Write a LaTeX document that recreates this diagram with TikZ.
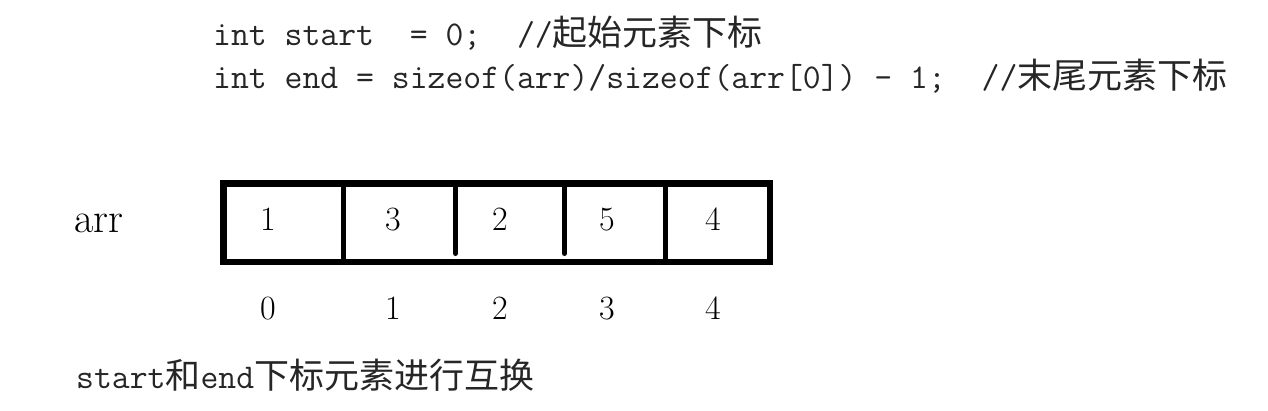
\documentclass[tikz,border=0pt]{standalone}
\usepackage{fontspec}
\setmonofont{Latin Modern Mono}
\newfontfamily\cjk{Noto Sans CJK SC}
\newcommand{\codesz}{\fontsize{34.7}{40}\selectfont}
\newcommand{\zh}[1]{{\cjk\fontsize{35}{40}\selectfont #1}}
\begin{document}
\begin{tikzpicture}[x=1pt,y=-1pt,
  codetext/.style={anchor=base west,inner sep=0pt,font=\ttfamily\codesz,text=black!85},
  numtext/.style={anchor=base,inner sep=0pt,font=\fontsize{34}{40}\selectfont},
  border/.style={line width=6.5pt},
  divider/.style={line width=5pt}]
\useasboundingbox[fill=white] (0,0) rectangle (1268,410);
% code lines
\node[codetext] (line1) at (213,45) {int\ start\ \ =\ 0;\ \ //\zh{起始元素下标}};
\node[codetext] (line2) at (213,88) {int\ end\ =\ sizeof(arr)/sizeof(arr[0])\ -\ 1;\ \ //\zh{末尾元素下标}};
% array
\node[draw,border,minimum width=546.5pt,minimum height=78.5pt,inner sep=0pt,anchor=north west] (arrbox) at (220,180) {};
\coordinate (d1t) at (343.5,180); \coordinate (d1b) at (343.5,258.5);
\coordinate (d2t) at (455.5,180); \coordinate (d2b) at (455.5,251);
\coordinate (d3t) at (564.5,180); \coordinate (d3b) at (564.5,251);
\coordinate (d4t) at (665,180);   \coordinate (d4b) at (665,258.5);
\draw[divider] (d1t) -- (d1b);
\draw[divider] (d2t) -- ([yshift=-2.5pt]d2b) coordinate (d2e);
\fill (d2e) circle (2.5pt);
\draw[divider] (d3t) -- ([yshift=-2.5pt]d3b) coordinate (d3e);
\fill (d3e) circle (2.5pt);
\draw[divider] (d4t) -- (d4b);
\node[anchor=base west,inner sep=0pt,font=\fontsize{42}{48}\selectfont] (arrlabel) at (74,232) {arr};
\node[numtext] (v0) at (268,230) {1};
\node[numtext] (v1) at (393,230) {3};
\node[numtext] (v2) at (500,230) {2};
\node[numtext] (v3) at (607,230) {5};
\node[numtext] (v4) at (713,230) {4};
\node[numtext] (i0) at (268,319) {0};
\node[numtext] (i1) at (393,319) {1};
\node[numtext] (i2) at (500,319) {2};
\node[numtext] (i3) at (607,319) {3};
\node[numtext] (i4) at (713,319) {4};
% bottom text
\node[codetext] (note) at (76,388) {start\zh{和}end\zh{下标元素进行互换}};
\end{tikzpicture}
\end{document}
